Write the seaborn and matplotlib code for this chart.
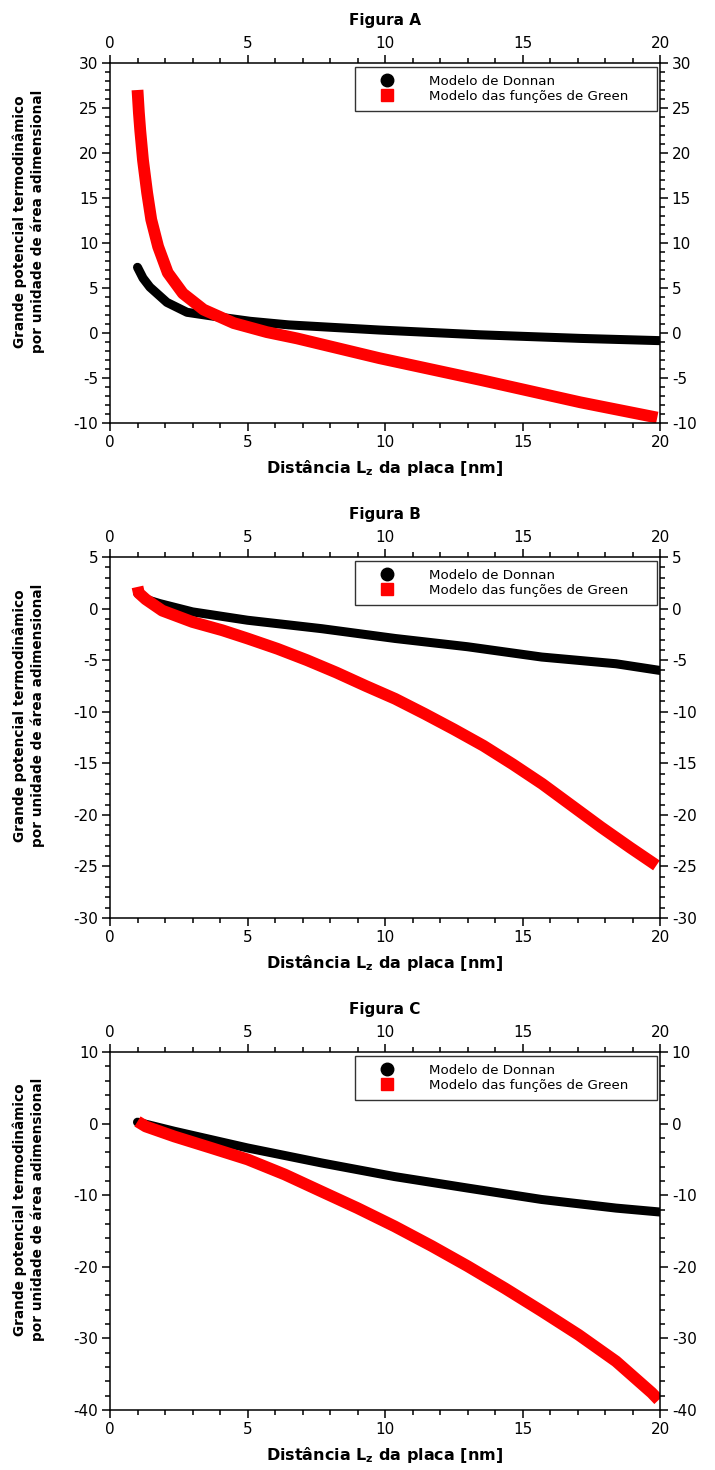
import numpy as np
import pandas as pd
import seaborn as sns
import matplotlib.pyplot as plt
from matplotlib.lines import Line2D
from matplotlib.ticker import MultipleLocator

# Figura A
xa_donnan = [1.0, 1.2, 1.45, 2.07, 2.8, 3.9, 5.1, 6.5, 9.8, 13.45, 17.1, 20.0]
ya_donnan = [7.3, 6.1, 5.1, 3.4, 2.3, 1.8, 1.3, 0.9, 0.33, -0.2, -0.6, -0.85]
xa_green = [1.0, 1.05, 1.1, 1.2, 1.35, 1.5, 1.75, 2.1, 2.65, 3.4, 4.5, 5.7, 6.8,
            9.8, 13.45, 17.1, 19.9]
ya_green = [27.0, 24.5, 22.5, 19.2, 15.6, 12.6, 9.6, 6.7, 4.4, 2.6, 1.1, 0.1, -0.6,
            -2.8, -5.2, -7.7, -9.4]

# Figura B
xb_donnan = [1.0, 1.3, 1.8, 3.0, 5.0, 7.7, 10.37, 13.0, 15.7, 18.4, 20.0]
yb_donnan = [1.5, 0.9, 0.49, -0.32, -1.13, -1.95, -2.9, -3.7, -4.7, -5.35, -6.0]
xb_green = [1.0, 1.05, 1.3, 1.9, 3.0, 4.08, 5.0, 6.09, 7.16, 8.23, 9.3, 10.37, 11.44,
            12.5, 13.58, 14.65, 15.72, 16.79, 17.86, 18.93, 19.87]
yb_green = [2.1, 1.5, 0.9, -0.2, -1.3, -2.1, -2.9, -3.9, -5.0, -6.2, -7.5, -8.75, -10.2,
            -11.7, -13.3, -15.1, -17.0, -19.1, -21.2, -23.2, -24.9]

# Figura C
xc_donnan = [1.0, 2.34, 5.0, 7.7, 10.35, 13.0, 15.7, 18.4, 20.0]
yc_donnan = [0.2, -1.07, -3.4, -5.5, -7.4, -9.0, -10.6, -11.8, -12.35]
xc_green = [1.0, 1.3, 2.34, 3.68, 5.0, 6.35, 7.7, 9.0, 10.35, 11.7, 13.0, 14.36, 15.7,
            17.04, 18.4, 19.7, 19.95]
yc_green = [0.3, -0.4, -1.8, -3.4, -5.0, -7.1, -9.5, -11.8, -14.35, -17.1, -19.9, -23.0,
            -26.2, -29.5, -33.2, -37.6, -38.6]

titles = ["Figura A", "Figura B", "Figura C"]
ylims = [(-10, 30), (-30, 5), (-40, 10)]
ymajor = [5, 5, 10]
yminor = [1, 1, 2]
labels = ["Modelo de Donnan", "Modelo das funções de Green"]

sns.set_style("ticks")
plt.rcParams['font.family'] = ['DejaVu Sans']
plt.rcParams['axes.unicode_minus'] = False
plt.rcParams['text.color'] = 'black'
plt.rcParams['axes.labelcolor'] = 'black'
plt.rcParams['xtick.color'] = 'black'
plt.rcParams['ytick.color'] = 'black'

fig = plt.figure(figsize=(7.15, 14.7), dpi=100)
W, H = 715, 1470
boxes = [(63, 423), (557, 918), (1052, 1410)]

data = [(xa_donnan, ya_donnan, xa_green, ya_green),
        (xb_donnan, yb_donnan, xb_green, yb_green),
        (xc_donnan, yc_donnan, xc_green, yc_green)]

for i, (top, bot) in enumerate(boxes):
    ax = fig.add_axes([110 / W, 1 - bot / H, 550 / W, (bot - top) / H])
    xd, yd, xg, yg = data[i]
    dfd = pd.DataFrame({"x": xd, "y": yd})
    dfg = pd.DataFrame({"x": xg, "y": yg})
    sns.lineplot(data=dfd, x="x", y="y", ax=ax, color="black", linewidth=6.5,
                 sort=False, estimator=None, solid_capstyle="round",
                 solid_joinstyle="round")
    sns.lineplot(data=dfg, x="x", y="y", ax=ax, color="#ff0000", linewidth=8.5,
                 sort=False, estimator=None, solid_capstyle="butt",
                 solid_joinstyle="round")
    ax.set_xlim(0, 20)
    ax.set_ylim(*ylims[i])
    ax.xaxis.set_major_locator(MultipleLocator(5))
    ax.xaxis.set_minor_locator(MultipleLocator(1))
    ax.yaxis.set_major_locator(MultipleLocator(ymajor[i]))
    ax.yaxis.set_minor_locator(MultipleLocator(yminor[i]))
    ax.tick_params(which="both", direction="out", top=True, right=True,
                   labeltop=True, labelright=True, width=1.1, color="black")
    ax.tick_params(which="major", length=6, labelsize=11, pad=2.5)
    ax.tick_params(which="minor", length=3.5)
    for s in ax.spines.values():
        s.set_linewidth(1.1)
        s.set_color("black")
        s.set_visible(True)
    ax.set_xlabel(r"Distância L$_\mathbf{z}$ da placa [nm]", fontsize=11.5,
                  fontweight="bold", labelpad=6)
    ax.set_ylabel("Grande potencial termodinâmico\npor unidade de área adimensional",
                  fontsize=9.8, fontweight="bold", linespacing=1.3)
    ax.yaxis.set_label_coords(-0.118, 0.56)
    ax.set_title(titles[i], fontsize=11, fontweight="bold", pad=8)

    handles = [Line2D([], [], linestyle="none", marker="o", color="black", markersize=9),
               Line2D([], [], linestyle="none", marker="s", color="#ff0000", markersize=9)]
    leg = ax.legend(handles, labels, loc="upper right", mode="expand",
                    bbox_to_anchor=(0.445, 0.5, 0.5495, 0.489),
                    fontsize=9.6, frameon=True, fancybox=False, borderpad=0.6,
                    handlelength=3.6, handletextpad=1.4, labelspacing=0.15,
                    borderaxespad=0)
    leg.get_frame().set_edgecolor("black")
    leg.get_frame().set_linewidth(1.0)

fig.savefig("out.png", dpi=100)
